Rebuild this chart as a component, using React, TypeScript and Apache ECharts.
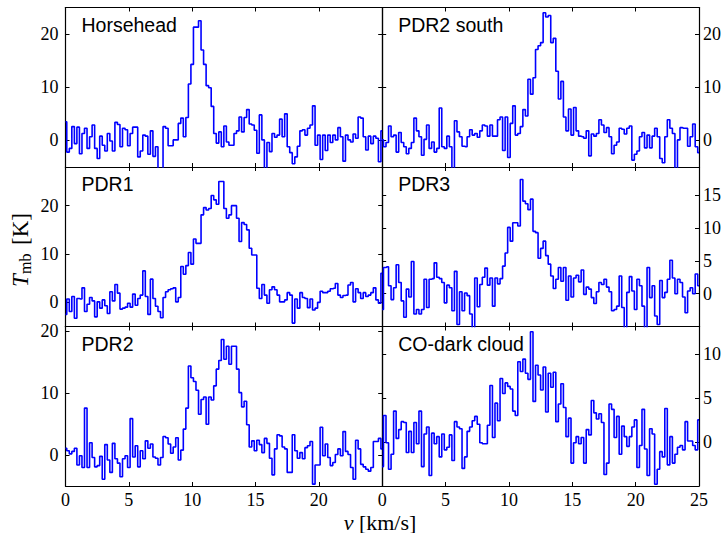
import React, { useEffect, useRef } from 'react';
import * as echarts from 'echarts';

// Spectral channel spacing (km/s); channels run from 0 to 25 km/s
const CHANNEL_WIDTH = 0.2;
const V_MIN = 0;
const V_MAX = 25;

const PANEL_NAMES = ['Horsehead', 'PDR2 south', 'PDR1', 'PDR3', 'PDR2', 'CO-dark cloud'];

// Main-beam temperatures (K), one value per channel
const HORSEHEAD = [
  3.5, -2.2, -1.5, 2.6, -0.6, 2.5, -2.5, 1.3, 2.3, -1.5,
  0.7, 2.9, -1.5, -3.4, 0.8, -0.9, -2.0, 1.3, -0.1, -2.0,
  3.4, 3.0, -1.2, 2.3, 2.0, -1.0, 1.3, 2.5, 2.5, -3.1,
  -2.0, 1.0, 0.8, -2.6, 1.8, -3.0, -1.2, -6.0, -6.0, 2.6,
  2.3, -1.0, -1.0, 0.1, 0.1, 3.2, 4.2, 0.7, 4.3, 10.6,
  14.3, 21.3, 21.3, 22.5, 17.0, 14.3, 10.3, 9.9, 6.4, 1.3,
  -0.5, 1.6, -1.2, 2.7, -0.3, -0.9, -0.9, 1.3, 1.8, 4.4,
  1.6, 4.3, 5.8, 3.1, 2.9, 1.9, -2.4, 4.8, 0.1, -5.5,
  -0.4, -2.1, 1.3, 0.6, 1.0, 4.0, 0.7, 5.0, -1.2, -2.3,
  -4.4, -3.1, -1.1, 1.8, 2.0, 1.0, 2.3, 2.9, 6.5, -0.9,
  1.0, -3.6, 1.0, -1.9, 1.0, -0.4, 1.0, 0.1, 2.4, 0.7,
  -3.9, 1.0, 0.1, -0.3, 1.2, 0.4, 4.4, 4.2, 0.7, -1.8,
  0.8, -0.6, 0.8, 0.4, -4.0, 1.8,
];

const PDR2_SOUTH = [
  0.1, -1.2, -0.4, 2.7, 0.7, 1.0, -2.2, 1.5, -0.4, -1.2,
  -2.5, -1.5, -0.4, 4.2, 1.8, 0.7, -2.8, 0.2, 2.9, -1.5,
  -0.3, -2.2, -1.5, 6.1, -1.2, -1.5, 0.8, -1.2, -6.0, 3.7,
  1.6, 0.7, -1.1, -1.2, 0.7, 2.0, 1.0, 1.3, 0.6, 1.8,
  2.9, 2.7, 0.8, 2.9, 0.8, 0.8, 3.9, 4.4, -1.9, 4.4,
  -3.2, 3.2, 6.5, 1.0, 1.3, 2.6, 5.8, 4.6, 11.5, 8.7,
  11.8, 17.1, 17.8, 18.4, 24.0, 23.2, 23.5, 18.4, 19.2, 13.0,
  7.8, 11.1, 4.4, 1.8, 5.9, 1.0, 6.2, 1.8, 0.8, 0.7,
  0.4, 1.8, -2.9, 1.2, 0.8, 1.3, 3.9, 2.9, 1.5, 2.4,
  0.7, -2.5, -0.9, -0.3, 2.3, 2.1, 1.2, 2.3, 2.7, -3.7,
  -2.6, -2.0, 0.7, 1.5, -1.4, 1.0, -1.4, 0.8, 2.3, 0.7,
  -3.4, -4.2, 0.7, 3.9, 2.3, 1.3, -5.5, 0.1, 2.4, 2.3,
  2.3, -1.1, 0.7, 3.1, -1.2, -2.3,
];

const PDR1 = [
  -2.5, 0.7, -1.9, 1.2, -3.3, 0.8, 0.7, 3.0, -1.9, -0.4,
  1.0, 0.3, -3.0, 0.1, -1.2, 0.5, -0.7, -2.3, 2.2, 0.3,
  3.7, 1.9, -1.4, -1.2, -1.0, -0.2, -1.0, 1.7, -0.6, 0.8,
  1.5, 6.5, 1.2, -2.5, 4.8, 0.8, -0.8, -1.9, -3.2, 1.0,
  2.2, 2.6, 2.8, 3.0, 0.1, 1.0, 7.4, 5.8, 7.6, 10.3,
  7.9, 13.1, 12.2, 12.2, 18.1, 19.6, 19.1, 19.4, 22.1, 21.2,
  20.3, 25.0, 25.0, 19.4, 17.4, 18.1, 20.0, 20.0, 17.4, 12.6,
  16.5, 16.1, 15.0, 11.2, 9.8, 9.8, 2.9, 0.8, 3.7, 1.5,
  -0.2, 2.6, 3.2, 2.6, 1.5, 0.1, 0.1, 0.5, 2.0, 1.5,
  -4.3, 0.7, -1.2, 2.0, 1.0, 0.8, -1.1, 0.7, -1.6, -1.2,
  0.0, 2.3, 2.0, 2.0, 2.3, 2.8, 2.9, 3.9, 1.5, 1.0,
  1.4, 1.5, 3.6, 4.1, 0.1, 2.8, 2.0, 0.8, 2.0, 1.2,
  1.5, 2.0, 3.0, 0.5, -0.2, 6.0,
];

const PDR3 = [
  -2.4, 4.0, 4.1, 1.2, -0.9, 0.9, 4.4, 1.7, -1.1, -3.6,
  0.7, -0.5, 4.9, -3.1, -2.4, -3.1, -2.4, 2.2, -2.1, 2.2,
  2.3, 4.7, 2.5, 2.3, 1.7, -1.4, 1.3, 0.9, -2.6, 3.4,
  -4.7, 0.3, -2.6, 0.1, -0.3, -3.1, -5.5, 2.4, -2.0, 1.4,
  2.5, 3.9, 1.3, 2.4, -1.9, 2.4, 1.5, 2.3, 4.2, 6.2,
  10.1, 8.0, 10.8, 10.8, 10.3, 17.4, 14.1, 13.7, 12.8, 14.4,
  9.5, 9.3, 5.4, 6.9, 8.0, 5.8, 4.5, 2.7, 0.8, 2.2,
  4.0, 1.9, 4.0, -1.0, 2.7, -0.5, 2.4, 2.8, 1.8, 3.6,
  -0.1, 1.0, 0.7, -0.6, -1.5, 0.3, 1.7, 1.4, 2.2, 1.0,
  0.3, -2.6, -2.4, -1.9, 2.7, -2.1, -5.5, 0.2, 2.6, 0.4,
  -2.4, 2.2, 1.2, -1.9, -5.5, 4.0, -0.6, 1.2, -3.4, -4.7,
  2.0, -0.6, 0.2, 2.2, 5.1, 2.4, 0.0, 2.2, 1.7, -0.5,
  -2.9, 0.4, 0.9, 0.0, 3.0, 1.2,
];

const PDR2 = [
  1.1, 0.7, 0.2, 0.6, 1.1, -1.6, -0.1, -2.0, 7.6, -2.0,
  2.0, -0.4, -1.9, -1.7, -0.2, -3.9, 1.7, -0.8, -2.8, 1.9,
  -0.6, -1.3, -3.5, -0.6, -0.1, -2.0, 5.9, -0.3, 1.5, -1.9,
  0.7, -0.6, 2.3, 1.1, 1.8, -0.3, -0.5, -1.6, -0.4, 3.0,
  2.8, 1.8, 0.3, 1.3, 2.8, -0.8, 0.8, 4.2, 7.6, 14.4,
  12.5, 11.9, 10.5, 6.6, 9.0, 9.4, 5.0, 9.4, 8.9, 11.2,
  13.9, 15.3, 18.7, 15.5, 17.6, 14.7, 17.6, 17.6, 13.9, 10.1,
  7.8, 8.7, 4.9, 1.3, 2.3, 0.7, 2.4, 1.7, 0.4, 2.7,
  1.9, -0.5, -3.2, 1.0, 3.3, 3.1, 1.3, 1.0, -2.8, -2.8,
  3.3, 0.7, -0.5, 0.4, -0.6, 1.2, 1.5, 2.2, -4.7, -1.6,
  -1.6, 4.5, -0.1, 1.8, -0.4, -1.7, -1.2, 0.1, 1.0, -0.1,
  3.8, 0.6, 0.1, -2.0, -3.9, 2.4, 1.0, -1.5, -1.9, -2.3,
  -2.6, -2.0, 2.2, 2.2, 2.7, 1.0,
];

const CO_DARK = [
  -2.8, 3.0, -0.1, -3.1, -1.4, 3.5, 0.4, 1.4, 2.3, 2.2,
  -1.2, 1.2, -1.2, 2.2, -0.2, 3.5, -2.8, 0.9, 1.7, -3.8,
  1.0, -0.2, 0.6, -1.7, 0.9, -0.9, -0.6, 0.8, -2.1, 2.3,
  1.7, 1.5, -3.0, -1.7, 1.2, 1.7, 2.4, 2.9, 2.0, -0.1,
  -0.2, -0.2, 1.9, 6.4, 0.5, 4.4, 2.4, 7.2, 5.5, 6.7,
  6.3, 6.0, 3.5, 3.0, 9.1, 8.0, 9.4, 7.8, 7.1, 12.5,
  4.6, 8.7, 7.6, 5.9, 8.5, 3.4, 7.8, 6.2, 7.9, 2.3,
  4.3, 6.6, 3.9, 0.6, 2.7, -2.4, -0.1, 0.6, -0.2, 0.5,
  -2.4, 1.4, 0.8, 4.7, 3.3, 2.6, 3.2, 2.2, -3.7, -2.4,
  4.3, 3.7, 0.5, 2.9, -1.4, 1.8, 0.6, -0.5, 0.6, 1.7,
  2.5, -2.9, -0.4, 3.7, -0.8, -3.8, 1.5, 0.9, -4.8, -3.1,
  -1.1, -1.7, 3.8, -2.6, 0.6, -2.4, -1.4, -0.6, -0.4, -0.9,
  2.3, 0.1, 0.1, -0.4, -0.9, 2.5,
];

const SPECTRA = [HORSEHEAD, PDR2_SOUTH, PDR1, PDR3, PDR2, CO_DARK];

// Temperature-axis limits and tick values per panel
const Y_MIN = [-5, -5, -5, -5, -5, -5];
const Y_MAX = [25, 25, 28, 19.3, 20.8, 13.1];
const Y_TICKS = [
  [0, 10, 20],
  [0, 10, 20],
  [0, 10, 20],
  [0, 5, 10, 15],
  [0, 10, 20],
  [0, 5, 10],
];
const X_TICKS = [0, 5, 10, 15, 20, 25];
const X_TICKS_LEFT = [0, 5, 10, 15, 20];

// Panel frame geometry (px)
const FRAME_LEFT = 65.5;
const FRAME_MID = 382.2;
const FRAME_RIGHT = 699;
const FRAME_TOP = 7.5;
const ROW_HEIGHT = 159.5;

const TICK_FONT = 'Liberation Serif';
const BLUE = '#0000ff';

function buildOption() {
  const grid: any[] = [];
  const xAxis: any[] = [];
  const yAxis: any[] = [];
  const series: any[] = [];
  const graphic: any[] = [];

  const lineStyle = { color: '#000', width: 1.2 };
  const tickStyle = { inside: true, length: 4, lineStyle: { color: '#000', width: 1 } };
  const labelStyle = { color: '#000', fontFamily: TICK_FONT, fontSize: 18 };

  SPECTRA.forEach((values, k) => {
    const row = Math.floor(k / 2);
    const col = k % 2;
    const left = col ? FRAME_MID : FRAME_LEFT;
    const width = col ? FRAME_RIGHT - FRAME_MID : FRAME_MID - FRAME_LEFT;
    const top = FRAME_TOP + row * ROW_HEIGHT;
    const bottomRow = row === 2;

    grid.push({ left, top, width, height: ROW_HEIGHT, containLabel: false });

    ['bottom', 'top'].forEach((position) => {
      xAxis.push({
        type: 'value',
        gridIndex: k,
        position,
        min: V_MIN,
        max: V_MAX,
        interval: 5,
        axisLine: { show: true, onZero: false, lineStyle },
        axisTick: { ...tickStyle, customValues: X_TICKS },
        axisLabel: {
          show: position === 'bottom' && bottomRow,
          customValues: col ? X_TICKS : X_TICKS_LEFT,
          margin: 5,
          ...labelStyle,
        },
        splitLine: { show: false },
      });
    });

    ['left', 'right'].forEach((position) => {
      const labelled = (position === 'left' && col === 0) || (position === 'right' && col === 1);
      yAxis.push({
        type: 'value',
        gridIndex: k,
        position,
        min: Y_MIN[k],
        max: Y_MAX[k],
        axisLine: { show: true, onZero: false, lineStyle },
        axisTick: { ...tickStyle, customValues: Y_TICKS[k] },
        axisLabel: {
          show: labelled,
          customValues: Y_TICKS[k],
          margin: position === 'left' ? 7 : 4,
          ...labelStyle,
        },
        splitLine: { show: false },
      });
    });

    series.push({
      type: 'line',
      xAxisIndex: 2 * k,
      yAxisIndex: 2 * k,
      data: values.map((t, i) => [V_MIN + i * CHANNEL_WIDTH, t]),
      step: 'middle',
      symbol: 'none',
      showSymbol: false,
      clip: true,
      silent: true,
      lineStyle: { color: BLUE, width: 1.6 },
    });

    graphic.push({
      type: 'text',
      x: left + 16,
      y: top + 7,
      style: {
        text: PANEL_NAMES[k],
        font: '19.5px "Liberation Sans"',
        fill: '#000',
        textAlign: 'left',
        textVerticalAlign: 'top',
      },
    });
  });

  // Shared axis titles
  graphic.push({
    type: 'group',
    x: 20,
    y: 247,
    rotation: Math.PI / 2,
    children: [
      {
        type: 'text',
        x: -40,
        y: 0,
        style: { text: 'T', font: 'italic 23px "Liberation Serif"', fill: '#000', textAlign: 'left', textVerticalAlign: 'middle' },
      },
      {
        type: 'text',
        x: -27,
        y: 5,
        style: { text: 'mb', font: '16px "Liberation Serif"', fill: '#000', textAlign: 'left', textVerticalAlign: 'middle' },
      },
      {
        type: 'text',
        x: 2,
        y: 0,
        style: { text: '[K]', font: '23px "Liberation Serif"', fill: '#000', textAlign: 'left', textVerticalAlign: 'middle' },
      },
    ],
  });

  graphic.push({
    type: 'text',
    x: 380,
    y: 522,
    style: {
      text: '{i|v} [km/s]',
      font: '22px "Liberation Serif"',
      fill: '#000',
      textAlign: 'center',
      textVerticalAlign: 'middle',
      rich: {
        i: { font: 'italic 22px "Liberation Serif"', fill: '#000' },
      },
    },
  });

  return {
    animation: false,
    backgroundColor: '#fff',
    grid,
    xAxis,
    yAxis,
    series,
    graphic,
  };
}

export default function App() {
  const ref = useRef<HTMLDivElement>(null);

  useEffect(() => {
    if (!ref.current) return;
    const chart = echarts.init(ref.current, undefined, { renderer: 'svg', width: 724, height: 533 });
    chart.setOption(buildOption());
    return () => chart.dispose();
  }, []);

  return (
    <div
      ref={ref}
      style={{ position: 'absolute', left: 0, top: 0, width: 724, height: 533 }}
    />
  );
}
